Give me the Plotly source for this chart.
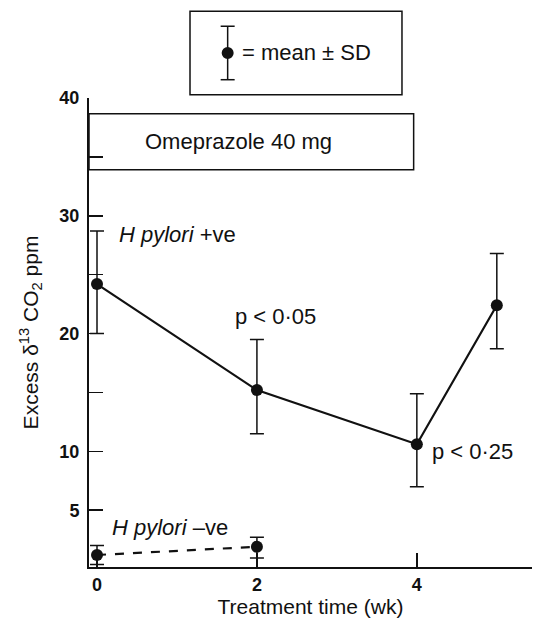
import plotly.graph_objects as go

# ---- data ----
weeks_pos = [0, 2, 4, 5]
mean_pos = [24.2, 15.2, 10.6, 22.4]
sd_pos_up = [4.5, 4.3, 4.3, 4.4]
sd_pos_down = [4.2, 3.7, 3.6, 3.7]

weeks_neg = [0, 2]
mean_neg = [1.2, 1.9]
sd_neg_up = [0.8, 0.8]
sd_neg_down = [0.8, 0.95]

y_tickvals = [5, 10, 20, 30, 40]
y_ticktext = ["5", "10", "20", "30", "40"]
x_tickvals = [0, 2, 4]
x_ticktext = ["0", "2", "4"]

FONT = "Liberation Sans, Arial, Helvetica, sans-serif"
BLACK = "#111111"

fig = go.Figure()

fig.add_trace(go.Scatter(
    x=weeks_pos, y=mean_pos, mode="lines+markers",
    line=dict(color=BLACK, width=2.2),
    marker=dict(color=BLACK, size=12),
    error_y=dict(type="data", symmetric=False, array=sd_pos_up, arrayminus=sd_pos_down,
                 color=BLACK, thickness=1.5, width=7),
    showlegend=False, cliponaxis=False, hoverinfo="skip",
))
fig.add_trace(go.Scatter(
    x=weeks_neg, y=mean_neg, mode="lines+markers",
    line=dict(color=BLACK, width=2.2, dash="dash"),
    marker=dict(color=BLACK, size=12),
    error_y=dict(type="data", symmetric=False, array=sd_neg_up, arrayminus=sd_neg_down,
                 color=BLACK, thickness=1.5, width=7),
    showlegend=False, cliponaxis=False, hoverinfo="skip",
))

# Omeprazole box
fig.add_shape(type="rect", xref="x", yref="y", x0=-0.1, x1=3.96, y0=33.9, y1=38.67,
              line=dict(color=BLACK, width=1.5), fillcolor="rgba(0,0,0,0)")

# Legend box (above plot)
fig.add_shape(type="rect", xref="paper", yref="paper", x0=0.228, x1=0.7065, y0=1.0071, y1=1.185,
              line=dict(color=BLACK, width=1.5))
lx = 0.313
fig.add_shape(type="line", xref="paper", yref="paper", x0=lx, x1=lx, y0=1.039, y1=1.153,
              line=dict(color=BLACK, width=1.5))
for yy in (1.039, 1.153):
    fig.add_shape(type="line", xref="paper", yref="paper", xsizemode="pixel", xanchor=lx,
                  x0=-7, x1=7, y0=yy, y1=yy, line=dict(color=BLACK, width=1.5))
fig.add_shape(type="circle", xref="paper", yref="paper", xsizemode="pixel", ysizemode="pixel",
              xanchor=lx, yanchor=1.096, x0=-6, x1=6, y0=-6, y1=6,
              fillcolor=BLACK, line=dict(color=BLACK, width=0))

fs = 22
annotations = [
    dict(x=0.341, y=1.096, xref="paper", yref="paper", text="= mean ± SD",
         xanchor="left", yanchor="middle", showarrow=False, font=dict(size=fs)),
    dict(x=1.77, y=36.3, text="Omeprazole 40 mg", xanchor="center", yanchor="middle",
         showarrow=False, font=dict(size=fs)),
    dict(x=0.25, y=28.4, text="<i>H pylori</i> +ve", xanchor="left", yanchor="middle",
         showarrow=False, font=dict(size=fs)),
    dict(x=2.23, y=21.43, text="p < 0·05", xanchor="center", yanchor="middle",
         showarrow=False, font=dict(size=fs)),
    dict(x=4.16, y=9.95, text="p < 0·25", xanchor="left", yanchor="middle",
         showarrow=False, font=dict(size=fs)),
    dict(x=0.165, y=3.57, text="<i>H pylori</i> –ve", xanchor="left", yanchor="middle",
         showarrow=False, font=dict(size=fs)),
]

tick_style = dict(ticks="inside", ticklen=14, tickwidth=1.5, tickcolor=BLACK)

fig.update_layout(
    width=539, height=620, autosize=False,
    margin=dict(l=89, r=7, t=98, b=53, pad=0),
    paper_bgcolor="white", plot_bgcolor="white",
    font=dict(family=FONT, color=BLACK, size=fs),
    annotations=annotations,
    hovermode=False,
    xaxis=dict(
        range=[-0.1, 5.44], tickvals=x_tickvals, ticktext=x_ticktext,
        **tick_style,
        showline=True, linecolor=BLACK, linewidth=2, showgrid=False, zeroline=False,
        tickfont=dict(family=FONT, size=18, color=BLACK, weight="bold"),
        title=dict(text="Treatment time (wk)", font=dict(family=FONT, size=21, color=BLACK), standoff=3),
    ),
    yaxis=dict(
        range=[0.18, 40], tickvals=y_tickvals, ticktext=y_ticktext,
        **tick_style,
        minor=dict(ticks="inside", ticklen=14, tickwidth=1.5, tickcolor=BLACK,
                   tick0=0, dtick=5, showgrid=False),
        ticklabelstandoff=4,
        showline=True, linecolor=BLACK, linewidth=2, showgrid=False, zeroline=False,
        tickfont=dict(family=FONT, size=18, color=BLACK, weight="bold"),
        title=dict(text="Excess δ<sup>13</sup> CO<sub>2</sub> ppm",
                   font=dict(family=FONT, size=21, color=BLACK), standoff=15),
    ),
)

fig.write_html("out.html", config={"displayModeBar": False, "staticPlot": True},
               post_script="document.body.style.margin='0';document.body.style.overflow='hidden';")
